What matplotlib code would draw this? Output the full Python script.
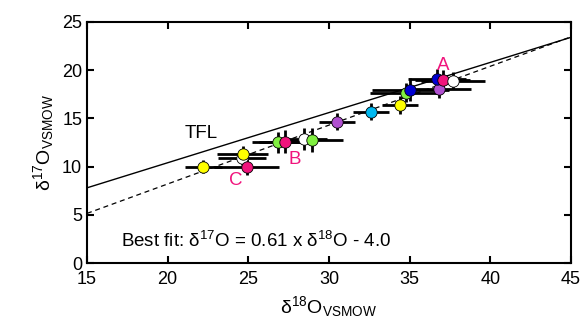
import matplotlib
matplotlib.use("Agg")
import matplotlib.pyplot as plt
import numpy as np

plt.rcParams['font.family'] = 'Liberation Sans'
plt.rcParams['mathtext.fontset'] = 'custom'
plt.rcParams['mathtext.rm'] = 'Liberation Sans'
plt.rcParams['mathtext.it'] = 'Liberation Sans'

# data points (delta18O, delta17O, errors, colour)
d18 = [22.2, 24.6, 24.65, 24.9, 26.85, 27.3, 28.45, 28.95, 30.5, 32.6, 34.4,
       34.75, 35.05, 36.8, 36.7, 37.05, 37.7]
d17 = [10.0, 10.85, 11.3, 9.95, 12.5, 12.6, 12.85, 12.75, 14.65, 15.7, 16.4,
       17.65, 17.95, 18.05, 19.05, 19.0, 18.9]
err18 = [1.15, 1.5, 1.6, 2.0, 1.6, 1.65, 1.4, 1.9, 1.1, 1.1, 1.1,
         2.2, 2.4, 2.0, 1.8, 1.7, 2.0]
err17 = [0.7, 0.7, 0.8, 0.8, 1.1, 1.2, 1.1, 1.2, 0.9, 0.9, 0.9,
         1.0, 1.2, 0.9, 1.1, 1.0, 0.9]
cols = ["#FFFF00", "#FFFFFF", "#FFFF00", "#F0147C", "#80F040", "#F0147C",
        "#FFFFFF", "#80F040", "#B050D0", "#00B8F0", "#FFFF00",
        "#80F040", "#0000D0", "#B050D0", "#0000D0", "#F0147C", "#FFFFFF"]

labels = ["A", "B", "C"]
label_x = [37.1, 27.9, 24.2]
label_y = [20.5, 10.7, 8.6]

line_x = np.array([15, 45])
tfl_slope = 0.52
fit_slope, fit_icpt = 0.61, -4.0

fig = plt.figure(figsize=(5.82, 3.22), dpi=100)
ax = fig.add_axes([0.1495, 0.183, 0.8315, 0.749])

ax.plot(line_x, tfl_slope * line_x, color="black", lw=1.0)
ax.plot(line_x, fit_slope * line_x + fit_icpt, color="black", lw=0.9, ls=(0, (4, 3)))

for x, y, ex, ey, c in zip(d18, d17, err18, err17, cols):
    ax.errorbar(x, y, xerr=ex, yerr=ey, fmt="none", ecolor="black", elinewidth=2.0, capsize=0)
for x, y, ex, ey, c in zip(d18, d17, err18, err17, cols):
    ax.plot(x, y, "o", ms=8.2, mfc=c, mec="black", mew=0.6)

for t, x, y in zip(labels, label_x, label_y):
    ax.text(x, y, t, color="#F0147C", fontsize=13.5, ha="center", va="center")

ax.text(22.1, 13.45, "TFL", fontsize=13.5, ha="center", va="center")
ax.text(17.1, 2.3, r"Best fit: $\mathregular{\delta^{17}}$O = 0.61 x $\mathregular{\delta^{18}}$O - 4.0",
        fontsize=13.5, ha="left", va="center")

ax.set_xlim(15, 45)
ax.set_ylim(0, 25)
ax.set_xticks([15, 20, 25, 30, 35, 40, 45])
ax.set_yticks([0, 5, 10, 15, 20, 25])
ax.tick_params(direction="in", length=5, width=1.5, top=True, right=True, labelsize=13)
ax.tick_params(axis="x", pad=6)
for s in ax.spines.values():
    s.set_linewidth(1.5)

ax.set_xlabel(r"$\mathregular{\delta^{18}O_{VSMOW}}$", fontsize=14, labelpad=4)
ax.set_ylabel(r"$\mathregular{\delta^{17}O_{VSMOW}}$", fontsize=14, labelpad=4)

fig.savefig("out.png", dpi=100)
